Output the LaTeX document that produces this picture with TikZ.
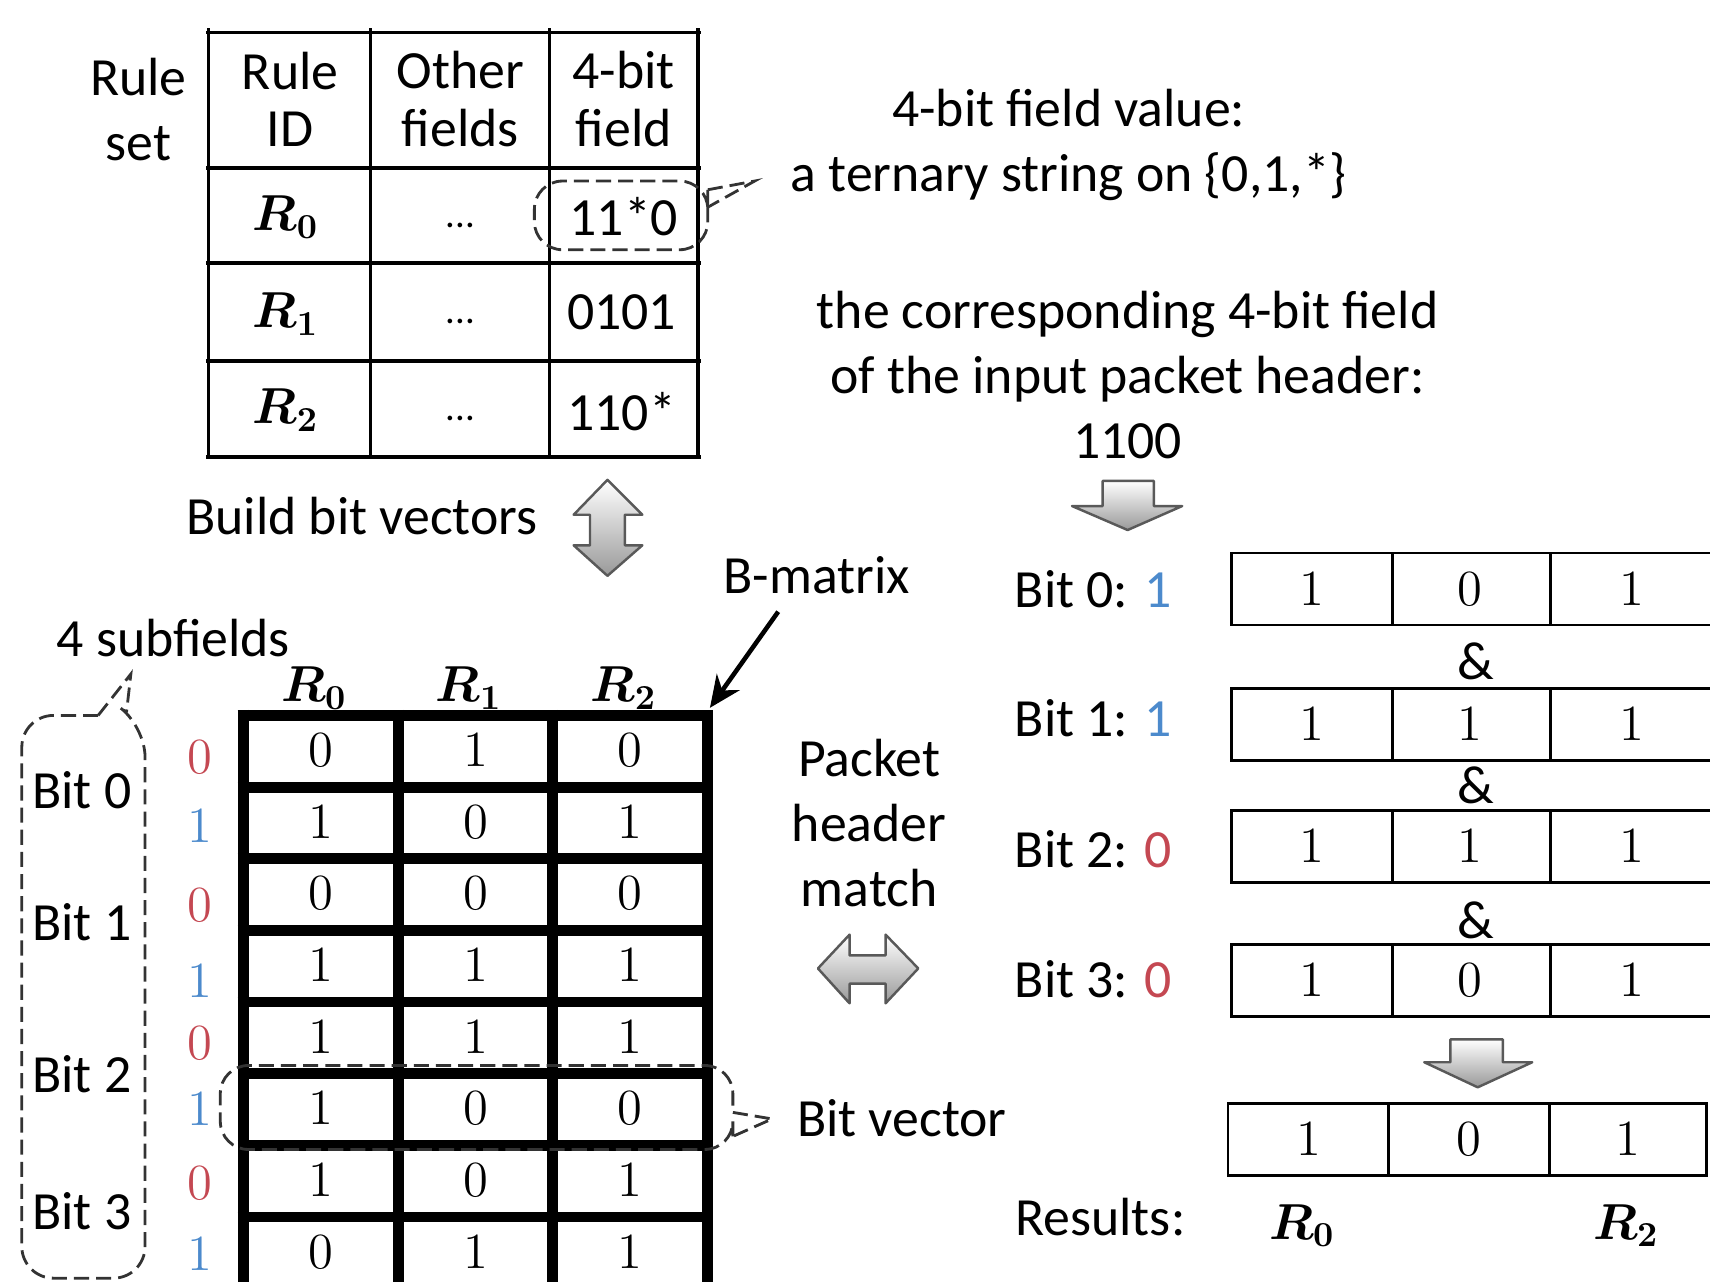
\documentclass[tikz,border=0pt]{standalone}
\usepackage[no-math]{fontspec}
\setmainfont{Carlito}
\usepackage{amsmath}
\usetikzlibrary{calc, positioning}
\usetikzlibrary{arrows.meta}

\definecolor{bitred}{RGB}{196,72,82}
\definecolor{bitblue}{RGB}{76,138,204}
\tikzset{
  txt/.style={font=\fontsize{15.3}{18.5}\selectfont, inner sep=0pt, align=center},
  hd/.style={font=\fontsize{15.3}{16.4}\selectfont, inner sep=0pt, align=center},
  num/.style={font=\fontsize{13.5}{16}\selectfont, inner sep=0pt},
  rid/.style={font=\fontsize{14}{16}\selectfont\boldmath, inner sep=0pt},
  tline/.style={line width=0.95pt},
  mline/.style={line width=3.1pt},
  vline/.style={line width=0.8pt},
  callout/.style={line width=0.8pt, black!80, dash pattern=on 4.3pt off 2pt},
  blockarrow/.style={draw=black!65, line width=0.7pt, top color=white, bottom color=black!40, line join=round},
  bmarrow/.style={line width=1.3pt, -{Stealth[length=9pt,width=8pt]}}
}

\begin{document}
\begin{tikzpicture}[x=0.010906cm, y=-0.010906cm]
\useasboundingbox (0,0) rectangle (1568,1175);
\clip (0,0) rectangle (1568,1175);

\foreach \y in {30,154,241,331,419} \draw[tline] (189,\y) -- (643,\y);
\foreach \x in {191,340,504,640} \draw[tline] (\x,26) -- (\x,419);

\node[txt] (rs) at (127,100) {Rule\\set};
\node[hd] (hid) at (266,91) {Rule\\ID};
\node[hd] (hof) at (422,91) {Other\\fields};
\node[hd] (hfd) at (572,91) {4-bit\\field};

\node[rid] (r0) at (262,199) {$R_0$};
\node[rid] (r1) at (262,288) {$R_1$};
\node[rid] (r2) at (262,376) {$R_2$};
\node[txt, font=\fontsize{11}{13}\selectfont] (d0) at (422,207) {...};
\node[txt, font=\fontsize{11}{13}\selectfont] (d1) at (422,295) {...};
\node[txt, font=\fontsize{11}{13}\selectfont] (d2) at (422,384) {...};
\node[txt] (f0) at (572,199) {11*0};
\node[txt] (f1) at (570,286) {0101};
\node[txt] (f2) at (570,377) {110*};

\draw[callout, rounded corners=8] (649,190) -- (649,229) -- (490,229) -- (490,166) -- (649,166) -- (649,174);
\draw[callout] (649,174) -- (692,166) -- (649,190);

\node[txt] (val) at (980,133) {4-bit field value:\\a ternary string on \{0,1,*\}};
\node[txt] (hdr) at (1034,344) {the corresponding 4-bit field\\of the input packet header:\\1100};
\draw[blockarrow] (1011,441) -- (1058,441) -- (1058,464) -- (1084,464) -- (1034,486) -- (983,464) -- (1011,464) -- cycle;

\node[txt] (bbv) at (332,473) {Build bit vectors};
\draw[blockarrow] (557,440) -- (589,472) -- (573,472) -- (573,500) -- (589,500) -- (557,528) -- (526,500) -- (541,500) -- (541,472) -- (526,472) -- cycle;

\node[txt] (bm) at (749,527) {B-matrix};
\node[txt] (sub) at (159,585) {4 subfields};

\node[rid] (c0) at (288,631) {$R_0$};
\node[rid] (c1) at (430,631) {$R_1$};
\node[rid] (c2) at (572,631) {$R_2$};

\foreach \x in {223,365,507,649} \draw[mline] (\x,651) -- (\x,1185);
\foreach \i in {0,...,8} \draw[mline] (218,{656+65.7*\i}) -- (654,{656+65.7*\i});
\foreach \a/\b/\c [count=\r from 0] in {0/1/0, 1/0/1, 0/0/0, 1/1/1, 1/1/1, 1/0/0, 1/0/1, 0/1/1} {
  \node[num] (m\r-a) at (294,{688+65.7*\r}) {$\a$};
  \node[num] (m\r-b) at (436,{688+65.7*\r}) {$\b$};
  \node[num] (m\r-c) at (578,{688+65.7*\r}) {$\c$};
}

\coordinate (mc) at (651,649);
\draw[bmarrow] ([xshift=-11pt,yshift=-5pt]bm.south) -- (mc);

\foreach \v/\c/\y [count=\k] in {0/bitred/694, 1/bitblue/758, 0/bitred/830, 1/bitblue/900, 0/bitred/957, 1/bitblue/1017, 0/bitred/1085, 1/bitblue/1150}
  \node[num, text=\c] (l\k) at (183,\y) {$\v$};

\foreach \y [count=\k from 0] in {725,846,985,1111}
  \node[txt] (b\k) at (75,\y) {Bit \k};

\draw[callout, rounded corners=9] (90,656) -- (20,656) -- (20,1172) -- (133,1172) -- (133,665) -- (116,653);
\draw[callout] (90,656) -- (120,618) -- (116,653);

\draw[callout, rounded corners=8] (672,1042) -- (672,1054) -- (202,1054) -- (202,977) -- (672,977) -- (672,1020);
\draw[callout] (672,1020) -- (708,1026) -- (672,1042);
\node[txt] (bv) at (827,1025) {Bit vector};

\node[txt] (phm) at (797,755) {Packet\\header\\match};
\draw[blockarrow] (750,888) -- (779,857) -- (779,876) -- (812,876) -- (812,857) -- (842,888) -- (812,920) -- (812,902) -- (779,902) -- (779,920) -- cycle;

\foreach \a/\b/\c/\t [count=\k from 0] in {1/0/1/507, 1/1/1/631, 1/1/1/743, 1/0/1/866} {
  \draw[vline] (1600,\t) -- (1129,\t) -- (1129,{\t+66}) -- (1600,{\t+66});
  \draw[vline] (1277,\t) -- (1277,{\t+66}) (1422,\t) -- (1422,{\t+66});
  \node[num] (v\k-a) at (1203,{\t+33}) {$\a$};
  \node[num] (v\k-b) at (1348,{\t+33}) {$\b$};
  \node[num] (v\k-c) at (1496,{\t+33}) {$\c$};
}
\node[txt, anchor=west] (bl0) at (930,540) {Bit 0: \textcolor{bitblue}{1}};
\node[txt, anchor=west] (bl1) at (930,659) {Bit 1: \textcolor{bitblue}{1}};
\node[txt, anchor=west] (bl2) at (930,779) {Bit 2: \textcolor{bitred}{0}};
\node[txt, anchor=west] (bl3) at (930,898) {Bit 3: \textcolor{bitred}{0}};
\node[txt] (and1) at (1353,606) {\&};
\node[txt] (and2) at (1353,720) {\&};
\node[txt] (and3) at (1353,844) {\&};

\draw[blockarrow] (1330,953) -- (1378,953) -- (1378,974) -- (1405,974) -- (1355,997) -- (1306,974) -- (1330,974) -- cycle;

\draw[vline] (1126,1012) rectangle (1565,1078);
\draw[vline] (1273,1012) -- (1273,1078) (1421,1012) -- (1421,1078);
\node[num] (s0) at (1200,1045) {$1$};
\node[num] (s1) at (1347,1045) {$0$};
\node[num] (s2) at (1493,1045) {$1$};
\node[txt] (res) at (1009,1116) {Results:};
\node[rid] (o0) at (1194,1124) {$R_0$};
\node[rid] (o2) at (1491,1124) {$R_2$};
\end{tikzpicture}
\end{document}
